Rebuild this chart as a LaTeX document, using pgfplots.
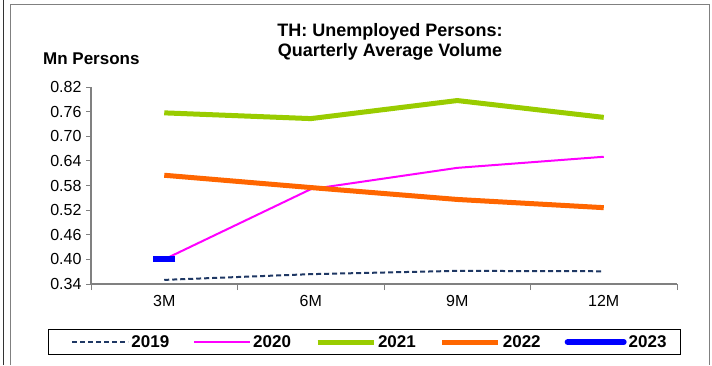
\documentclass[border=0pt]{standalone}
\usepackage{pgfplots}
\pgfplotsset{compat=1.18}
\usepackage{fontspec}
\setmainfont{Liberation Sans}
\definecolor{c19}{HTML}{1F3864}
\definecolor{c20}{HTML}{FF00FF}
\definecolor{c21}{HTML}{99CC00}
\definecolor{c22}{HTML}{FF6600}
\definecolor{c23}{HTML}{0000FF}
\definecolor{axgray}{HTML}{808080}
\pgfplotsset{firstleg/.style={legend image code/.code={\path (-11pt,0pt); \draw[##1] (0pt,0pt) -- (56pt,0pt);}}}
\begin{document}
\begin{tikzpicture}[x=1pt,y=1pt]
\useasboundingbox (0,0) rectangle (712,365);
\draw[black!80, line width=1pt] (3,0) -- (3,365);
\draw[black!50, line width=1pt] (10,0) -- (10,360) -- (709,360) -- (709,0);
\node[font=\bfseries\fontsize{18}{20}\selectfont, align=center] at (390,323) {TH: Unemployed Persons:\\Quarterly Average Volume};
\node[font=\bfseries\fontsize{17}{20}\selectfont, anchor=west, inner sep=0pt] at (43,306) {Mn Persons};
\begin{axis}[
  at={(91pt,81pt)}, anchor=south west,
  scale only axis, width=586pt, height=197pt,
  xmin=-0.5, xmax=3.5, ymin=0.34, ymax=0.82,
  axis x line*=bottom, axis y line*=left,
  axis line style={axgray, line width=1.2pt, -},
  xtick={0,1,2,3}, xticklabels={3M,6M,9M,12M},
  major x tick style={draw=none},
  minor xtick={-0.5,0.5,1.5,2.5,3.5},
  minor tick length=6pt, major tick length=5pt,
  tick align=outside,
  tick style={axgray, line width=1pt},
  ytick={0.34,0.40,0.46,0.52,0.58,0.64,0.70,0.76,0.82},
  yticklabels={0.34,0.40,0.46,0.52,0.58,0.64,0.70,0.76,0.82},
  tick label style={font=\fontsize{16}{18}\selectfont},
  xticklabel style={yshift=-3pt},
  yticklabel style={xshift=-1pt},
  clip=false,
  legend columns=5,
  legend style={at={(axis description cs:0,0)}, anchor=north west, xshift=-43pt, yshift=-45pt,
    draw=black, line width=0.8pt, inner xsep=12pt, inner ysep=4pt,
    font=\bfseries\fontsize{17}{20}\selectfont,
    /tikz/every even column/.append style={column sep=22pt}},
  legend image code/.code={\draw[#1] (0pt,0pt) -- (56pt,0pt);},
]
\addplot[c19, line width=2pt, dash pattern=on 5pt off 3pt, firstleg] coordinates {(0,0.350) (1,0.364) (2,0.372) (3,0.371)};
\addlegendentry{2019}
\addplot[c20, line width=2pt] coordinates {(0,0.400) (1,0.571) (2,0.623) (3,0.650)};
\addlegendentry{2020}
\addplot[c21, line width=5pt] coordinates {(0,0.757) (1,0.743) (2,0.787) (3,0.746)};
\addlegendentry{2021}
\addplot[c22, line width=5pt] coordinates {(0,0.605) (1,0.575) (2,0.546) (3,0.526)};
\addlegendentry{2022}
\addplot[c23, line width=6pt, line cap=round, mark=-, mark size=11pt, mark options={line width=6pt, line cap=butt}] coordinates {(0,0.400)};
\addlegendentry{2023}
\end{axis}
\end{tikzpicture}
\end{document}
